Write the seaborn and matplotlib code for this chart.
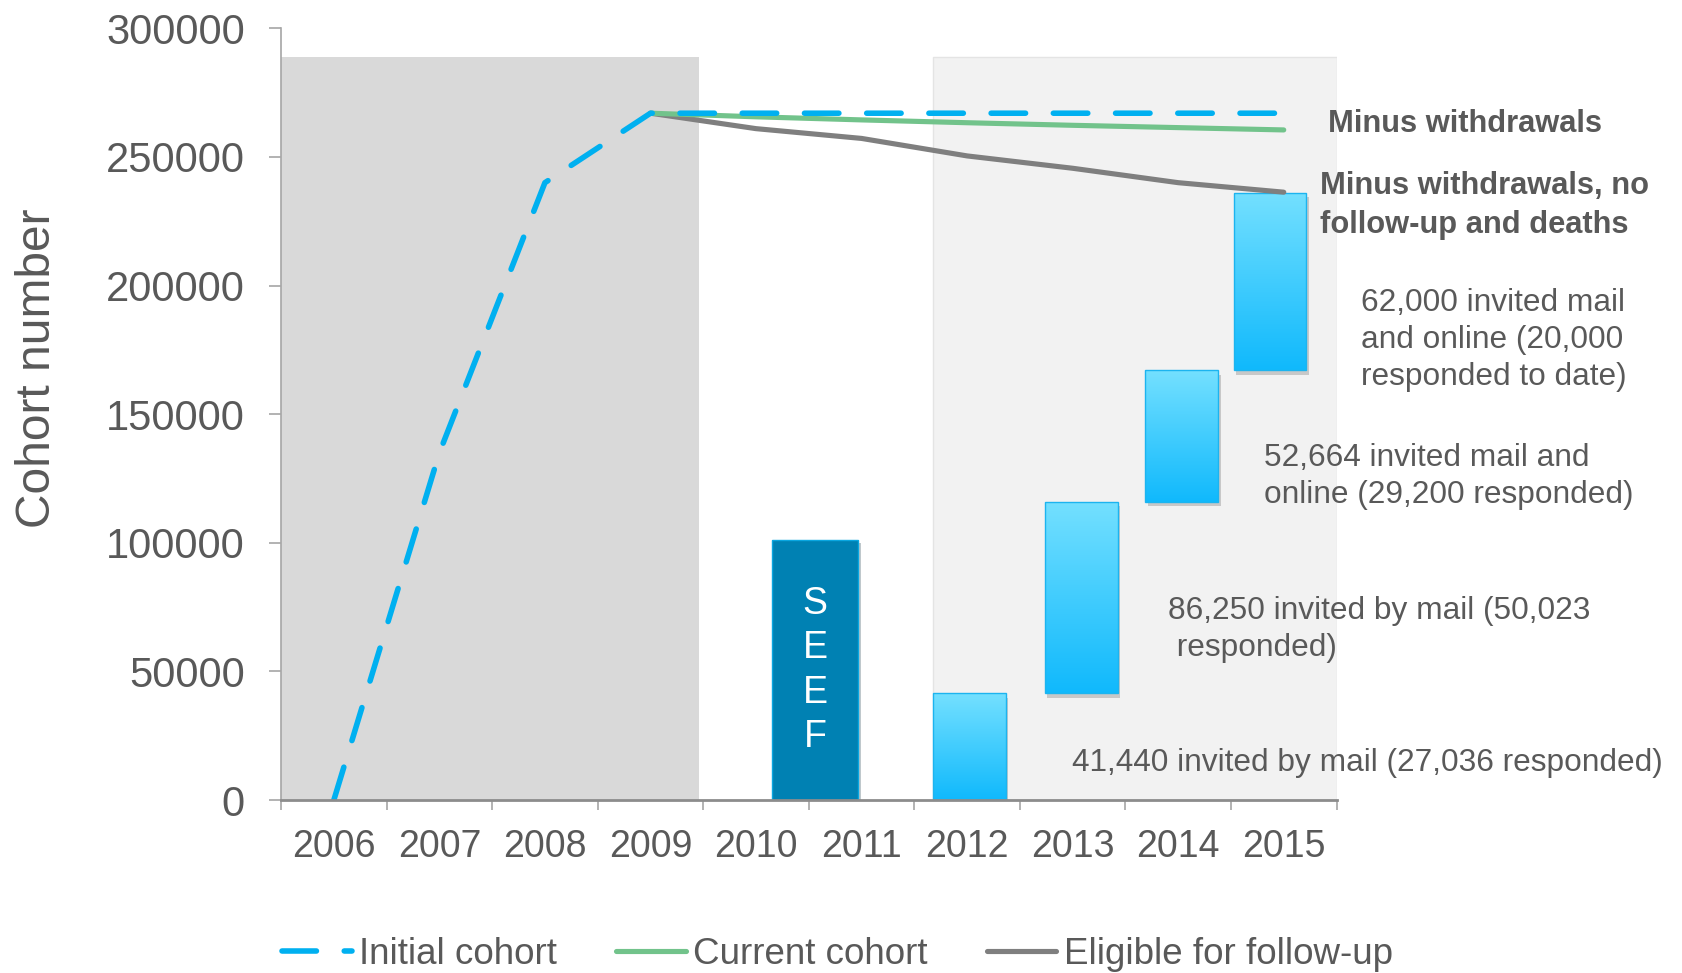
import numpy as np
import pandas as pd
import matplotlib
matplotlib.use('Agg')
import matplotlib.pyplot as plt
import matplotlib.patheffects as pe
from matplotlib.patches import Rectangle
from matplotlib.colors import LinearSegmentedColormap
import seaborn as sns

# data
years = [2006, 2007, 2008, 2009, 2010, 2011, 2012, 2013, 2014, 2015]
initial_cohort = [0, 135000, 240000, 267000, 267000, 267000, 267000, 267000, 267000, 267000]
later_years = [2009, 2010, 2011, 2012, 2013, 2014, 2015]
current_cohort = [267000, 265600, 264400, 263300, 262300, 261400, 260500]
eligible = [267000, 261000, 257200, 250400, 245600, 240000, 236300]

seef_pos = 2010.56
seef_top = 101000

wave_pos = [2012.02, 2013.08, 2014.03, 2014.87]
wave_low = [0, 41440, 116000, 167000]
wave_high = [41440, 116000, 167000, 236000]
wave_notes = ['41,440 invited by mail (27,036 responded)',
              '86,250 invited by mail (50,023\n responded)',
              '52,664 invited mail and\nonline (29,200 responded)',
              '62,000 invited mail\nand online (20,000\nresponded to date)']

grey_txt = '#595959'
blue = '#00b0f0'
green = '#72c38b'
grey = '#7f7f7f'

sns.set_style('white')
plt.rcParams['font.family'] = ['Liberation Sans', 'DejaVu Sans']

fig = plt.figure(figsize=(16.82, 9.73), dpi=100)
ax = fig.add_axes([0.1671, 0.1777, 0.6275, 0.7932])

# shaded periods
ax.add_patch(Rectangle((2005.5, 0), 3.96, 289000, facecolor='#d9d9d9', edgecolor='none', zorder=0))
ax.add_patch(Rectangle((2011.68, 0), 3.82, 289000, facecolor='#f2f2f2', edgecolor='#e4e4e4', lw=1, zorder=0))

# SEEF bar
sb = ax.bar(seef_pos, seef_top, width=0.82, color='#0081b3', edgecolor='#0aa6e0', lw=1, zorder=3)[0]
sb.set_path_effects([pe.SimplePatchShadow(offset=(2, -2), alpha=0.25), pe.Normal()])
ax.text(seef_pos, 50400, 'S\nE\nE\nF', color='white', fontsize=27, ha='center', va='center',
        linespacing=1.3, zorder=4)

# gradient follow-up bars
cmap = LinearSegmentedColormap.from_list('wave', ['#10b9fc', '#74e0ff'])
grad = np.linspace(0, 1, 256).reshape(-1, 1)
for x, lo, hi in zip(wave_pos, wave_low, wave_high):
    b = ax.bar(x, hi - lo, bottom=lo, width=0.69, color='none', edgecolor='#1cb4ef', lw=1, zorder=3)[0]
    sh = ax.bar(x, hi - lo, bottom=lo, width=0.69, color='#ffffff', lw=0, zorder=2)[0]
    sh.set_path_effects([pe.SimplePatchShadow(offset=(2, -3), alpha=0.25)])
    im = ax.imshow(grad, extent=(b.get_x(), b.get_x() + b.get_width(), lo, hi), origin='lower',
                   cmap=cmap, aspect='auto', zorder=2.5)
    im.set_clip_path(b)

# lines
sns.lineplot(x=later_years, y=eligible, ax=ax, color=grey, lw=3.7, label='Eligible for follow-up',
             solid_capstyle='round', zorder=5)
sns.lineplot(x=later_years, y=current_cohort, ax=ax, color=green, lw=3.7, label='Current cohort',
             solid_capstyle='round', zorder=5)
sns.lineplot(x=years, y=initial_cohort, ax=ax, color=blue, lw=4, label='Initial cohort',
             dash_capstyle='round', zorder=6)
ax.lines[-1].set_dashes((6.2, 5.0))

ax.set_xlim(2005.5, 2015.5)
ax.set_ylim(0, 300000)
yt = list(range(0, 300001, 50000))
ax.set_yticks(yt)
ax.set_yticklabels([str(v) for v in yt])
ax.set_xticks(years)
ax.set_xticklabels([str(y) for y in years])
ax.set_xticks(np.arange(len(years) + 1) + years[0] - 0.5, minor=True)
ax.tick_params(axis='y', labelsize=30, labelcolor=grey_txt, length=9, width=1.2, color='#a6a6a6',
               pad=17, left=True)
ax.tick_params(axis='x', which='major', labelsize=27, labelcolor=grey_txt, length=0, pad=21)
ax.tick_params(axis='x', which='minor', length=7, width=1.2, color='#a6a6a6', bottom=True)
for s in ['top', 'right']:
    ax.spines[s].set_visible(False)
ax.spines['left'].set_color('#a6a6a6')
ax.spines['left'].set_linewidth(1.2)
ax.spines['bottom'].set_color('#8c8c8c')
ax.spines['bottom'].set_linewidth(2)
ax.spines['bottom'].set_zorder(7)

ax.set_ylabel('Cohort number', fontsize=34.5, color=grey_txt)
ax.yaxis.set_label_coords(-0.209, 0.56)
ax.set_xlabel('')

# annotations
ax.text(2015.42, 263000, 'Minus withdrawals', fontsize=22.2, fontweight='bold', color=grey_txt, va='center')
ax.text(2015.34, 231000, 'Minus withdrawals, no\nfollow-up and deaths', fontsize=22.2, fontweight='bold',
        color=grey_txt, va='center', linespacing=1.4)
note_xy = [(2012.99, 14300), (2013.90, 66400), (2014.81, 125900), (2015.73, 178800)]
for (tx, ty), note in zip(note_xy, wave_notes):
    ax.text(tx, ty, note, fontsize=22.8, color=grey_txt, va='center', linespacing=1.3)

h, l = ax.get_legend_handles_labels()
order = [l.index('Initial cohort'), l.index('Current cohort'), l.index('Eligible for follow-up')]
ax.legend([h[i] for i in order], [l[i] for i in order], loc='center', bbox_to_anchor=(0.4978, 0.019),
          bbox_transform=fig.transFigure, ncol=3, frameon=False, fontsize=26.5, handlelength=1.9,
          handletextpad=0.2, columnspacing=1.6, labelcolor=grey_txt)

fig.savefig('out.png', dpi=100)
